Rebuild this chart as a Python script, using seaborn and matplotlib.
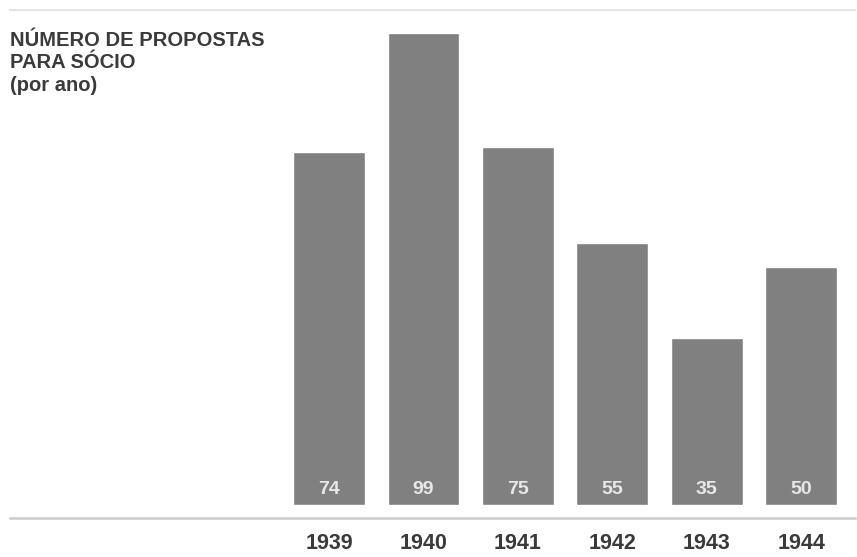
import matplotlib
matplotlib.use("Agg")
import matplotlib.pyplot as plt
import seaborn as sns
import pandas as pd

# dados
anos = ["1939", "1940", "1941", "1942", "1943", "1944"]
propostas = [74, 99, 75, 55, 35, 50]
titulo = "NÚMERO DE PROPOSTAS\nPARA SÓCIO\n(por ano)"

COR_BARRA = "#808080"
COR_TEXTO = "#3a3a3a"

sns.set_style("white")
plt.rcParams["font.family"] = ["Liberation Sans", "DejaVu Sans"]

df = pd.DataFrame({"ano": anos, "propostas": propostas})

fig = plt.figure(figsize=(8.57, 5.57), dpi=100)
ax = fig.add_axes([10 / 857, 1 - 518 / 557, 845 / 857, 508 / 557])

sns.barplot(data=df, x="ano", y="propostas", color=COR_BARRA, saturation=1,
            width=0.76, ax=ax)

ax.set_xlim(-3.38, 5.57)
ax.set_ylim(-2.73, 103.8)

# rótulos de valor dentro das barras
for i, v in enumerate(propostas):
    ax.text(i, 3.2, str(v), ha="center", va="center", color="#e8e8e8",
            fontsize=14, fontweight="bold")

ax.set_xlabel("")
ax.set_ylabel("")
ax.set_yticks([])
ax.tick_params(axis="x", length=0, pad=11, labelsize=15.5, labelcolor=COR_TEXTO)
for lbl in ax.get_xticklabels():
    lbl.set_fontweight("bold")

for s in ["left", "right"]:
    ax.spines[s].set_visible(False)
ax.spines["top"].set_color("#e4e4e4")
ax.spines["top"].set_linewidth(1.5)
ax.spines["bottom"].set_color("#cccccc")
ax.spines["bottom"].set_linewidth(1.8)

fig.text(10 / 857, 1 - 31 / 557, titulo, ha="left", va="top", fontsize=14.5,
         fontweight="bold", color=COR_TEXTO, linespacing=1.22)

fig.savefig("out.png", dpi=100)
